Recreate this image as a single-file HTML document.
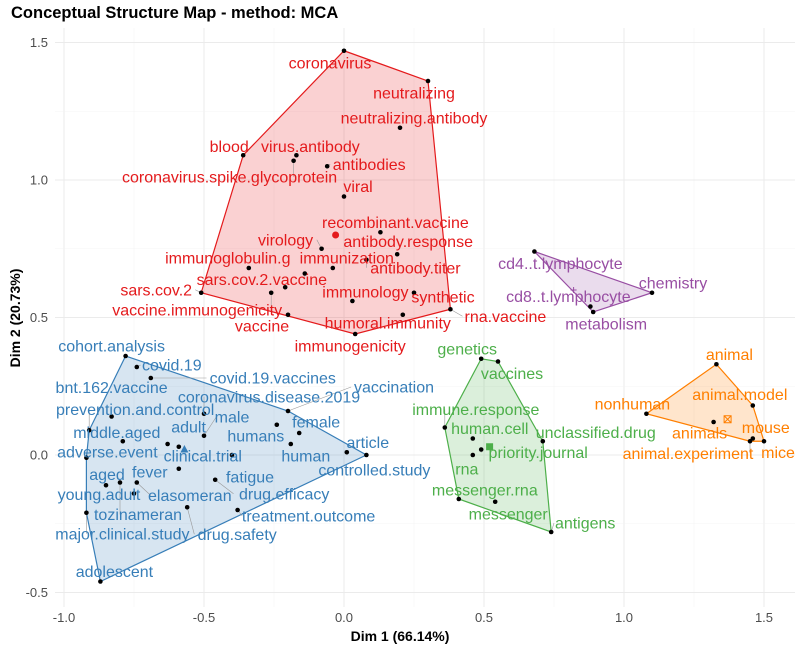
<!DOCTYPE html>
<html><head><meta charset="utf-8"><style>
body{margin:0;background:#fff;}
svg text{font-family:"Liberation Sans",sans-serif;}
</style></head><body>
<svg id="chart" width="800" height="648" xmlns="http://www.w3.org/2000/svg">
<text x="11" y="18" font-size="16.5" font-weight="bold" fill="#000">Conceptual Structure Map - method: MCA</text>
<g id="grid"></g><g id="hulls"></g><g id="links"></g><g id="points"></g><g id="labels"></g><g id="axes"></g>
<text x="400" y="641" font-size="14" font-weight="bold" text-anchor="middle">Dim 1 (66.14%)</text>
<text transform="translate(20,318) rotate(-90)" font-size="14" font-weight="bold" text-anchor="middle">Dim 2 (20.73%)</text>
</svg>
<script>
const clusterColors=["#E41A1C","#377EB8","#4DAF4A","#984EA3","#FF7F00"];
const clusterNames=["red","blue","green","purple","orange"];
const terms=[
["coronavirus","neutralizing","neutralizing.antibody","blood","virus.antibody","coronavirus.spike.glycoprotein","antibodies","viral","recombinant.vaccine","virology","antibody.response","immunization","antibody.titer","immunoglobulin.g","sars.cov.2.vaccine","","sars.cov.2","vaccine.immunogenicity","immunology","synthetic","rna.vaccine","humoral.immunity","vaccine","immunogenicity"],
["cohort.analysis","covid.19","covid.19.vaccines","vaccination","coronavirus.disease.2019","bnt.162.vaccine","prevention.and.control","male","adult","female","humans","article","controlled.study","middle.aged","adverse.event","clinical.trial","human","fatigue","fever","aged","young.adult","elasomeran","tozinameran","drug.efficacy","drug.safety","treatment.outcome","major.clinical.study","adolescent"],
["genetics","vaccines","immune.response","human.cell","priority.journal","rna","unclassified.drug","messenger.rna","messenger","antigens"],
["cd4..t.lymphocyte","chemistry","cd8..t.lymphocyte","metabolism"],
["animal","animal.model","nonhuman","animals","mouse","animal.experiment","mice"]
];
const dim1=[
[0.00,0.30,0.20,-0.36,-0.17,-0.18,-0.06,0.00,0.13,-0.08,0.19,-0.04,0.08,-0.34,-0.14,-0.21,-0.51,-0.26,0.03,0.25,0.38,0.21,-0.20,0.04],
[-0.78,-0.74,-0.69,-0.20,-0.50,-0.83,-0.91,-0.50,-0.63,-0.16,-0.24,0.01,0.08,-0.79,-0.92,-0.59,-0.19,-0.40,-0.59,-0.85,-0.75,-0.74,-0.80,-0.46,-0.56,-0.38,-0.92,-0.87],
[0.49,0.55,0.36,0.46,0.49,0.46,0.71,0.41,0.54,0.74],
[0.68,1.10,0.88,0.89],
[1.33,1.46,1.08,1.32,1.46,1.45,1.50]
];
const dim2=[
[1.47,1.36,1.19,1.09,1.09,1.07,1.05,0.94,0.81,0.75,0.73,0.68,0.71,0.68,0.66,0.61,0.59,0.59,0.56,0.59,0.53,0.51,0.51,0.44],
[0.36,0.32,0.28,0.16,0.15,0.14,0.09,0.07,0.04,0.08,0.11,0.01,0.00,0.05,-0.01,0.03,0.04,0.00,-0.05,-0.11,-0.14,-0.10,-0.10,-0.09,-0.19,-0.20,-0.21,-0.46],
[0.35,0.34,0.10,0.06,0.02,0.00,0.05,-0.16,-0.17,-0.28],
[0.74,0.59,0.54,0.52],
[0.33,0.18,0.15,0.12,0.06,0.05,0.05]
];
const centroidDim1=[-0.03,-0.57,0.52,0.82,1.37];
const centroidDim2=[0.80,0.02,0.03,0.60,0.13];
const xTicks=[-1.0,-0.5,0.0,0.5,1.0,1.5];
const yTicks=[-0.5,0.0,0.5,1.0,1.5];
const xTickLabels=["-1.0","-0.5","0.0","0.5","1.0","1.5"];
const yTickLabels=["-0.5","0.0","0.5","1.0","1.5"];
// label placement offsets (px, styling only)
const labelOffsets=[
[[-14,12],[-14,12],[14,-10],[-14,-9],[14,-9],[-64,16],[42,-2],[14,-10],[15,-10],[-36,-9],[11,-13],[14,-10],[49,8],[-21,-10],[-43,6],[0,0],[-45,-3],[-74,17],[13,-9],[29,4],[55,7],[-15,8],[-26,11],[-5,12]],
[[-14,-10],[35,-2],[122,0],[106,-24],[65,-17],[0,-29],[46,-21],[28,-19],[21,-17],[17,-11],[-21,11],[21,-10],[8,15],[-6,-9],[21,-6],[24,9],[15,12],[18,22],[-29,3],[1,-11],[-35,1],[53,13],[18,32],[69,14],[50,27],[71,6],[36,21],[14,-10]],
[[-14,-10],[14,12],[31,-18],[17,-10],[57,3],[-6,14],[53,-9],[26,-9],[13,12],[34,-9]],
[[26,12],[21,-10],[-22,-10],[13,12]],
[[13,-10],[-13,-11],[-14,-10],[-14,11],[13,-11],[-62,12],[14,11]]
];
const X0=344,XS=280,Y0=455,YS=275;
const sx=v=>X0+XS*v, sy=v=>Y0-YS*v;
const L=55,R=795,T=28,B=607;
const NS="http://www.w3.org/2000/svg";
function mk(tag,attrs,parent,txt){const e=document.createElementNS(NS,tag);for(const k in attrs)e.setAttribute(k,attrs[k]);if(txt!==undefined)e.textContent=txt;parent.appendChild(e);return e;}
const grid=document.getElementById('grid');
for(let v=-1.0;v<=1.51;v+=0.25){const x=sx(v);const major=Math.abs(v*2-Math.round(v*2))<1e-6;
 const l=mk('line',{x1:x,x2:x,y1:T,y2:B,stroke:major?'#ebebeb':'#f4f4f4','stroke-width':major?1:0.6},grid);
 
 }
for(let v=-0.5;v<=1.51;v+=0.25){const y=sy(v);const major=Math.abs(v*2-Math.round(v*2))<1e-6;
 const l=mk('line',{x1:L,x2:R,y1:y,y2:y,stroke:major?'#ebebeb':'#f4f4f4','stroke-width':major?1:0.6},grid);
 
 }
const axes=document.getElementById('axes');
xTicks.forEach((v,i)=>{const t=mk('text',{x:sx(v),y:622,'font-size':13,'text-anchor':'middle',fill:'#4d4d4d'},axes,xTickLabels[i]);
 
 });
yTicks.forEach((v,i)=>{const t=mk('text',{x:48,y:sy(v)+4.5,'font-size':13,'text-anchor':'end',fill:'#4d4d4d'},axes,yTickLabels[i]);
 
 });
function hull(pts){pts=pts.slice().sort((a,b)=>a[0]-b[0]||a[1]-b[1]);const cr=(o,a,b)=>(a[0]-o[0])*(b[1]-o[1])-(a[1]-o[1])*(b[0]-o[0]);
 const lo=[],up=[];for(const p of pts){while(lo.length>=2&&cr(lo[lo.length-2],lo[lo.length-1],p)<=0)lo.pop();lo.push(p);}
 for(let i=pts.length-1;i>=0;i--){const p=pts[i];while(up.length>=2&&cr(up[up.length-2],up[up.length-1],p)<=0)up.pop();up.push(p);}
 up.pop();lo.pop();return lo.concat(up);}
const hg=document.getElementById('hulls'),pg=document.getElementById('points'),lg=document.getElementById('labels'),lk=document.getElementById('links');
terms.forEach((arr,c)=>{const col=clusterColors[c];
 const pts=arr.map((_,i)=>[sx(dim1[c][i]),sy(dim2[c][i])]);
 const h=hull(pts);
 const poly=mk('polygon',{points:h.map(p=>p.join(',')).join(' '),fill:col,'fill-opacity':0.2,stroke:col,'stroke-width':1.2},hg);
 
 
 arr.forEach((name,i)=>{const [x,y]=pts[i];
  const d=mk('circle',{cx:x,cy:y,r:2.3,fill:'#000'},pg);
  
  
  if(!name)return;
  const o=labelOffsets[c][i];const lx=x+o[0],ly=y+o[1];
  if(Math.hypot(o[0],o[1])>30){const ln=mk('line',{x1:x,y1:y,x2:lx-Math.sign(o[0])*Math.min(Math.abs(o[0]),name.length*3.9),y2:ly,stroke:'#999','stroke-width':0.6},lk);
   
   }
  const t=mk('text',{x:lx,y:ly+5.5,'font-size':16,'text-anchor':'middle',fill:col},lg,name);
  
  
 });
 const cx=sx(centroidDim1[c]),cy=sy(centroidDim2[c]);
 let cm;
 if(c===0) cm=mk('circle',{cx:cx,cy:cy,r:3.5,fill:col},pg);
 else if(c===1) cm=mk('polygon',{points:`${cx},${cy-4.5} ${cx-4},${cy+3} ${cx+4},${cy+3}`,fill:col},pg);
 else if(c===2) cm=mk('rect',{x:cx-3.5,y:cy-3.5,width:7,height:7,fill:col},pg);
 else if(c===3) cm=mk('path',{d:`M${cx-3},${cy}H${cx+3}M${cx},${cy-3}V${cy+3}`,stroke:col,'stroke-width':1,fill:'none'},pg);
 else cm=mk('path',{d:`M${cx-3.5},${cy-3.5}h7v7h-7zM${cx-3.5},${cy-3.5}l7,7M${cx+3.5},${cy-3.5}l-7,7`,stroke:col,'stroke-width':1,fill:'none'},pg);
 
 
});
</script>
</body></html>
